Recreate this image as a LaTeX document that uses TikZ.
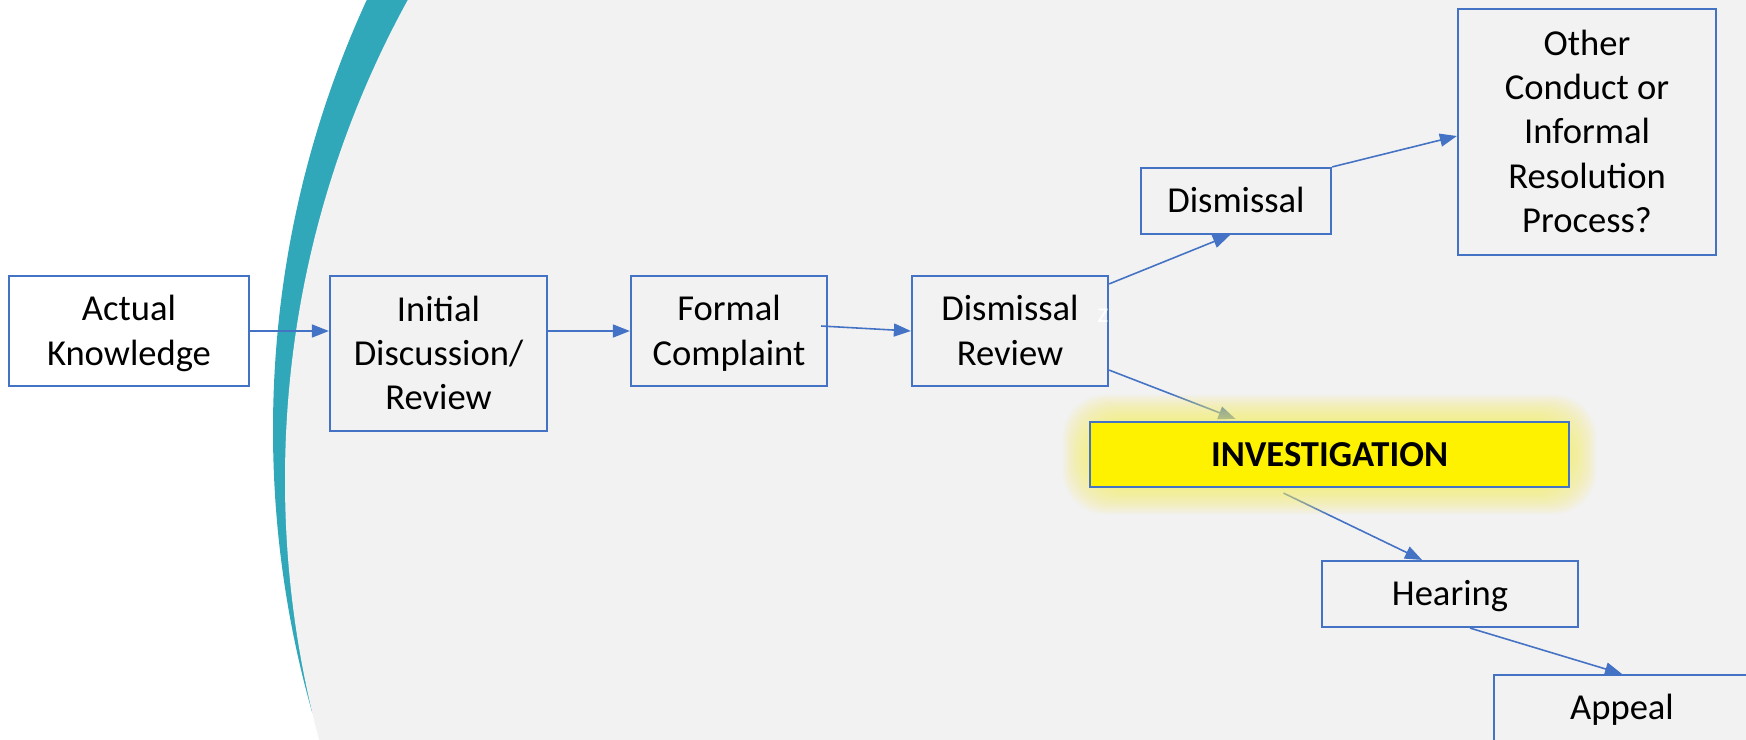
\documentclass[tikz,border=0pt]{standalone}
\usepackage{fontspec}
\setmainfont{Carlito}
\usetikzlibrary{arrows.meta}
\usetikzlibrary{calc}

\definecolor{boxblue}{HTML}{4472C4}
\definecolor{arcteal}{HTML}{31A8B9}
\definecolor{panelgray}{HTML}{F2F2F2}
\definecolor{glowyellow}{HTML}{F6EE66}

% line box of the first and the last line
\newcommand{\tstrut}{\rule{0pt}{9.7pt}}
\newcommand{\bstrut}{\rule[-2.9pt]{0pt}{2.9pt}}

\pgfdeclarelayer{bg}
\pgfdeclarelayer{links}
\pgfdeclarelayer{glow}
\pgfsetlayers{bg,links,glow,main}

\begin{document}
\begin{tikzpicture}[x=0.01cm, y=-0.01cm,
    stage/.style={draw=boxblue, line width=0.6pt, inner sep=0pt, align=center,
                  font=\fontsize{10.4}{12.6}\selectfont},
    link/.style={draw=boxblue, line width=0.45pt, -{Triangle[length=0.17cm,width=0.13cm]}}]
    \clip (0,0) rectangle (1746,739);
    \begin{pgfonlayer}{bg}
        \fill[white] (0,0) rectangle (1746,739);
        \begin{scope}
            \clip (0,0) rectangle (1746,712);
            \fill[arcteal] (1303.5,430) circle [radius=1030.5];
        \end{scope}
        \fill[panelgray] (1283,480) circle [radius=998];
    \end{pgfonlayer}

    \node[stage, minimum width=2.40cm, minimum height=1.10cm] (know) at (129,331) {\tstrut Actual\\Knowledge\bstrut};
    \node[stage, minimum width=2.17cm, minimum height=1.55cm] (initial) at (438.5,353.5) {\tstrut Initial\\Discussion/\\Review\bstrut};
    \node[stage, minimum width=1.96cm, minimum height=1.10cm] (formal) at (729,331) {\tstrut Formal\\Complaint\bstrut};
    \node[stage, minimum width=1.96cm, minimum height=1.10cm] (dreview) at (1010,331) {\tstrut Dismissal\\Review\bstrut};
    \node[stage, minimum width=1.90cm, minimum height=0.66cm] (dismissal) at (1236,201) {\tstrut Dismissal\bstrut};
    \node[stage, minimum width=2.58cm, minimum height=2.46cm] (other) at (1587,132) {\tstrut Other\\Conduct or\\Informal\\Resolution\\Process?\bstrut};
    \node[stage, fill=yellow, minimum width=4.79cm, minimum height=0.65cm,
          font=\fontsize{10.4}{12.6}\selectfont\bfseries] (invest) at (1329.5,454.5) {\tstrut INVESTIGATION\bstrut};
    \node[stage, minimum width=2.56cm, minimum height=0.66cm] (hearing) at (1450,594) {\tstrut Hearing\bstrut};
    \node[stage, minimum width=2.56cm, minimum height=0.66cm] (appeal) at (1622,708) {\tstrut Appeal\bstrut};
    \node[text=white, inner sep=0pt, font=\fontsize{8}{9}\selectfont] (zmark) at (1103,316) {z};

    \begin{pgfonlayer}{links}
        \draw[link] (know.east) -- (know.east -| initial.west);
        \draw[link] (initial.east |- formal.west) -- (formal.west);
        \draw[link] ($(formal.east)+(-7,-5)$) -- (dreview.west);
        \draw[link] ($(dreview.north east)+(0,9)$) -- ($(dismissal.south)+(-6,0)$);
        \draw[link] (dismissal.north east) -- ($(other.west)+(0,4)$);
        \draw[link] ($(dreview.south east)+(0,-17)$) -- ($(invest.north)+(-94,-2)$);
        \draw[link] ($(invest.south)+(-46,5)$) -- ($(hearing.north)+(-28,0)$);
        \draw[link] ($(hearing.south)+(20,0)$) -- (appeal.north);
    \end{pgfonlayer}

    \begin{pgfonlayer}{glow}
        \foreach \g in {2,4,...,26}
            \fill[glowyellow, opacity=0.08, rounded corners=12pt]
                ($(invest.north west)+(-\g,-\g)$) rectangle ($(invest.south east)+(\g,\g)$);
    \end{pgfonlayer}
\end{tikzpicture}
\end{document}
